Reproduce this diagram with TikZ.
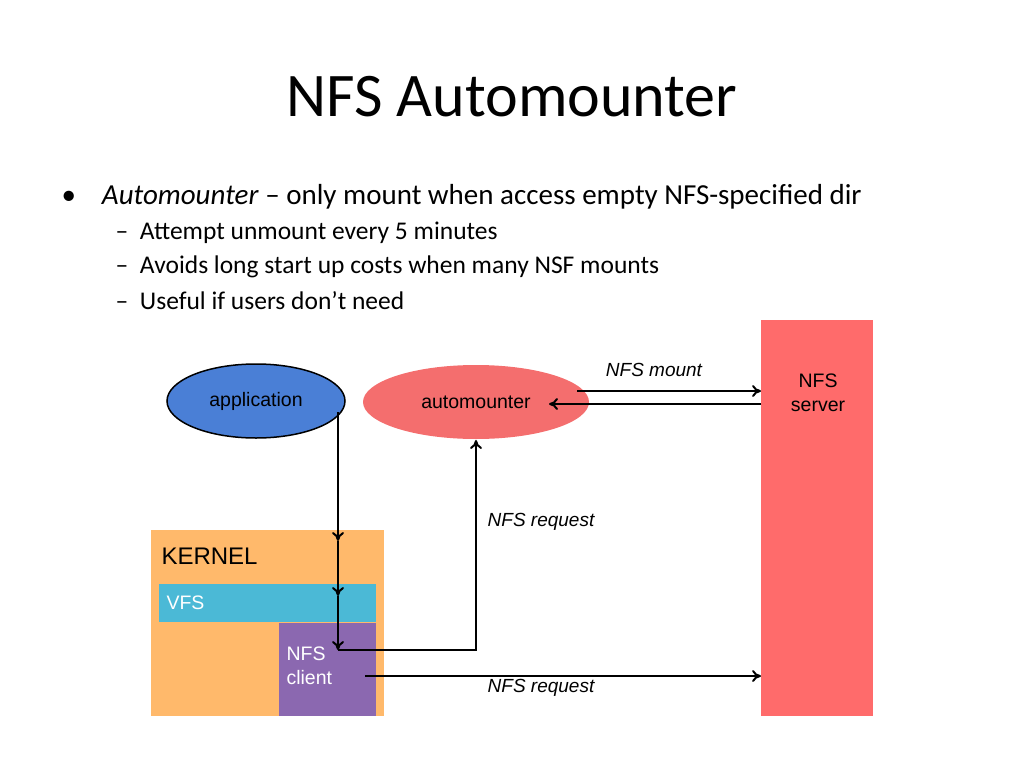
\documentclass[tikz,border=0pt]{standalone}
\usepackage{fontspec}
\setmainfont{Carlito}
\newfontfamily\arial{Liberation Sans}
\usetikzlibrary{arrows.meta, positioning, shapes.geometric}

\definecolor{appblue}{HTML}{4A7FD6}
\definecolor{autored}{HTML}{F46E6E}
\definecolor{srvred}{HTML}{FF6B6B}
\definecolor{kernorange}{HTML}{FFB96B}
\definecolor{vfscyan}{HTML}{4BB9D6}
\definecolor{clientpurple}{HTML}{8B68B0}

\begin{document}
\begin{tikzpicture}[
  x=1pt, y=-1pt,
  flow/.style={line width=2pt, draw=black, -{To[length=9pt, width=12pt]}},
  blob/.style={ellipse, inner sep=0pt, font=\arial\fontsize{19.5}{22}\selectfont},
  tag/.style={font=\arial\itshape\fontsize{19}{22}\selectfont},
  boxlabel/.style={font=\arial\fontsize{19.5}{24}\selectfont, align=left}
  ]

  \useasboundingbox (0,0) rectangle (1024,768);

  % Title and bullets
  \node (title) at (512,97) {\fontsize{62}{70}\selectfont NFS Automounter};
  \node[anchor=west] (b1) at (58,197) {\fontsize{29}{34}\selectfont
    \textbullet\hspace{26pt}\textit{Automounter} -- only mount when access empty NFS-specified dir};
  \node[anchor=west] (s1) at (112,233) {\fontsize{25.5}{30}\selectfont -- \hspace{6pt}Attempt unmount every 5 minutes};
  \node[anchor=west] (s2) at (112,267) {\fontsize{25.5}{30}\selectfont -- \hspace{6pt}Avoids long start up costs when many NSF mounts};
  \node[anchor=west] (s3) at (112,301) {\fontsize{25.5}{30}\selectfont -- \hspace{6pt}Useful if users don’t need};

  % Boxes
  \fill[srvred] (761,320) rectangle (873,716);
  \node[boxlabel, align=center] (server) at (818,393) {NFS\\server};
  \fill[kernorange] (151,530) rectangle (384,716);
  \node[anchor=west, font=\arial\fontsize{24}{28}\selectfont] (kernel) at (158,556) {KERNEL};
  \fill[vfscyan] (159,584) rectangle (376,622);
  \node[anchor=west, boxlabel, text=white] (vfs) at (163,603) {VFS};
  \fill[clientpurple] (279,623) rectangle (376,716);
  \node[boxlabel, text=white, anchor=north west] (client) at (283,643) {NFS\\client};

  % Ellipses
  \node[blob, draw=black, line width=1.5pt, fill=appblue, minimum width=178pt, minimum height=74pt] (app) at (256,401) {application};
  \node[blob, fill=autored, minimum width=226pt, minimum height=74pt] (auto) at (476,402) {automounter};

  % Connectors
  \coordinate (top) at (338,412);
  \coordinate (k) at (338,541);
  \coordinate (v) at (338,596);
  \coordinate (c) at (338,650);
  \draw[flow] (top) -- (k);
  \draw[flow] (k) -- (v);
  \draw[flow] (v) -- (c);
  \draw[flow] (c) -- (476,650) -- (476,440);
  \draw[flow] (365,676) -- (761,676);
  \draw[flow] (577,391) -- (761,391);
  \draw[flow] (761,404) -- (549,404);

  \node[tag] (mounttag) at (654,370) {NFS mount};
  \node[tag] (reqtag1) at (541,522) {NFS request};
  \node[tag] (reqtag2) at (541,688) {NFS request};

\end{tikzpicture}
\end{document}
